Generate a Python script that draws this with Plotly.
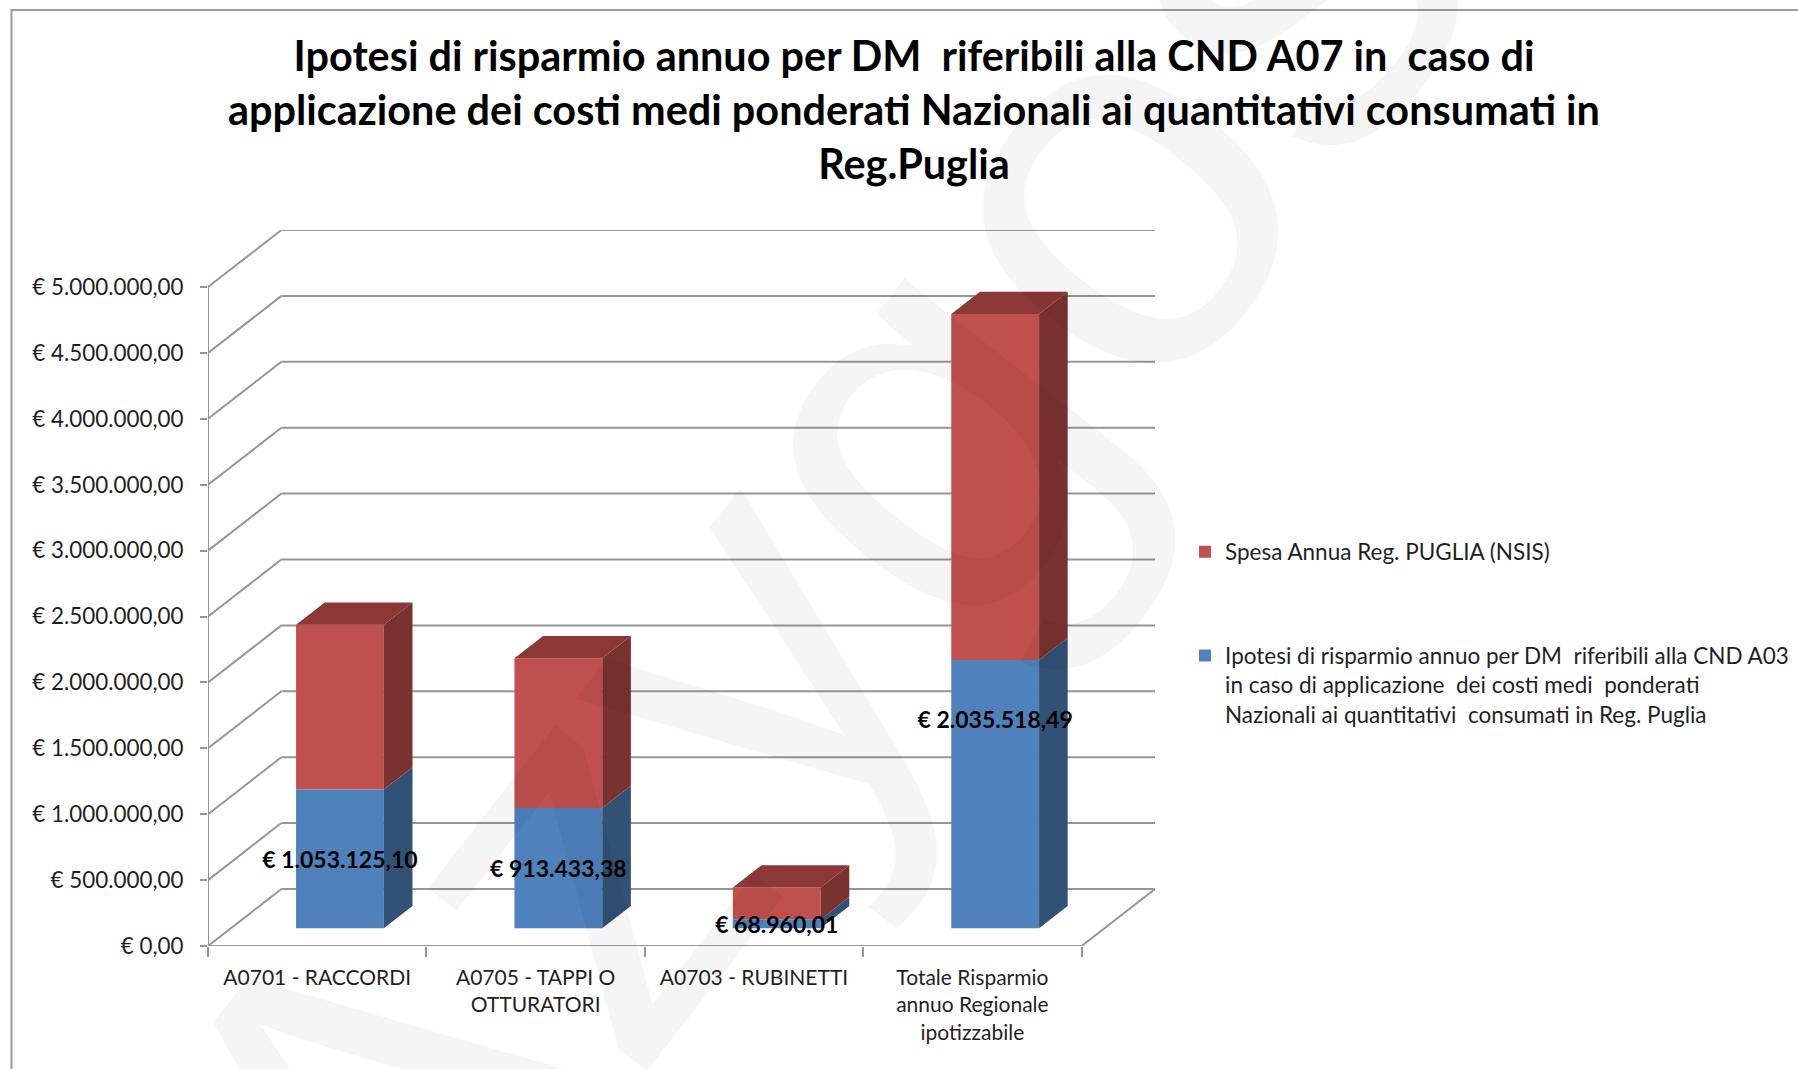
import plotly.graph_objects as go

# ---- data ----
categories = ["A0701 - RACCORDI", "A0705 - TAPPI O<br>OTTURATORI", "A0703 - RUBINETTI",
              "Totale Risparmio<br>annuo Regionale<br>ipotizzabile"]
risparmio = [1053125.10, 913433.38, 68960.01, 2035518.49]
spesa = [1250000, 1135000, 240000, 2625000]
risparmio_labels = ["€ 1.053.125,10", "€ 913.433,38", "€ 68.960,01", "€ 2.035.518,49"]
label_fraction = [0.5, 0.5, 0.5, 0.78]
tick_values = [0, 500000, 1000000, 1500000, 2000000, 2500000, 3000000, 3500000, 4000000, 4500000, 5000000]
tick_labels = ["€ 0,00", "€ 500.000,00", "€ 1.000.000,00", "€ 1.500.000,00", "€ 2.000.000,00",
               "€ 2.500.000,00", "€ 3.000.000,00", "€ 3.500.000,00", "€ 4.000.000,00",
               "€ 4.500.000,00", "€ 5.000.000,00"]
title_text = ("Ipotesi di risparmio annuo per DM  riferibili alla CND A07 in  caso di<br>"
              "applicazione dei costi medi ponderati Nazionali ai quantitativi consumati in<br>Reg.Puglia")
name_spesa = "Spesa Annua Reg. PUGLIA (NSIS)"
# two empty lines first: plotly centres the swatch on the text block, the reference has it on line 1
name_risp = ("\u00a0<br>\u00a0<br>Ipotesi di risparmio annuo per DM  riferibili alla CND A03<br>"
             "in caso di applicazione  dei costi medi  ponderati<br>"
             "Nazionali ai quantitativi  consumati in Reg. Puglia")

# ---- oblique projection of the Excel 3-D column chart ----
W, H = 1798, 1069
L, R, T, B = 208, 1155, 230, 946
n = len(categories)
DEPTH_X = 0.336          # wall offset, in categories
DEPTH_Y = 432800         # wall offset, in euros
FRONT = 0.31             # depth at which a bar's front face sits
BAR_DEPTH = 0.39
BAR_W = 0.402
LABEL_NUDGE = -25000
GRID = "#969696"
FONT = "Lato"
x_max = n + DEPTH_X
y_max = 5000000 + DEPTH_Y

fig = go.Figure()

base0 = FRONT * DEPTH_Y
xc = [i + 0.5 + FRONT * DEPTH_X for i in range(n)]
bar_dx = BAR_DEPTH * DEPTH_X
bar_dy = BAR_DEPTH * DEPTH_Y

def face(xs, ys, color):
    fig.add_trace(go.Scatter(x=xs, y=ys, mode="lines", fill="toself", fillcolor=color,
                             line=dict(width=0), showlegend=False, hoverinfo="skip"))

fig.add_trace(go.Bar(x=xc, y=spesa, base=[base0 + v for v in risparmio], width=BAR_W, name=name_spesa,
                     marker=dict(color="#C0504D", line=dict(width=0)), legendgroup="b"))
fig.add_trace(go.Bar(x=xc, y=risparmio, base=[base0] * n, width=BAR_W, name=name_risp,
                     marker=dict(color="#4F81BD", line=dict(width=0)), legendgroup="a"))

for i in range(n):
    xr = xc[i] + BAR_W / 2
    xl = xc[i] - BAR_W / 2
    y1 = base0 + risparmio[i]
    y2 = y1 + spesa[i]
    face([xr, xr + bar_dx, xr + bar_dx, xr, xr], [base0, base0 + bar_dy, y1 + bar_dy, y1, base0], "#315274")
    face([xr, xr + bar_dx, xr + bar_dx, xr, xr], [y1, y1 + bar_dy, y2 + bar_dy, y2, y1], "#7A3230")
    face([xl, xl + bar_dx, xr + bar_dx, xr, xl], [y2, y2 + bar_dy, y2 + bar_dy, y2, y2], "#8C3836")

fig.add_trace(go.Scatter(
    x=xc, y=[base0 + v * f + LABEL_NUDGE for v, f in zip(risparmio, label_fraction)],
    mode="text", text=risparmio_labels, textposition="middle center",
    textfont=dict(family=FONT, size=23, color="#000000", weight="bold"),
    showlegend=False, hoverinfo="skip"))

# walls and floor, drawn under the bars
shapes = []
def line(x0, y0, x1, y1):
    shapes.append(dict(type="line", xref="x", yref="y", x0=x0, y0=y0, x1=x1, y1=y1, layer="below",
                       line=dict(color=GRID, width=2)))
for v in tick_values:
    line(0, v, DEPTH_X, v + DEPTH_Y)
    line(DEPTH_X, v + DEPTH_Y, n + DEPTH_X, v + DEPTH_Y)
line(0, 0, 0, tick_values[-1])
line(0, 0, n, 0)
line(n, 0, n + DEPTH_X, DEPTH_Y)

px = lambda p: (p - L) / (R - L)
py = lambda p: (B - p) / (B - T)
shapes.append(dict(type="path", xref="paper", yref="paper", layer="below",
                   path=f"M {px(11.5)} {py(1069)} L {px(11.5)} {py(10)} L {px(1798)} {py(10)}",
                   line=dict(color="#9a9a9a", width=2)))

fig.update_layout(
    width=W, height=H, margin=dict(l=L, r=W - R, t=T, b=H - B, autoexpand=False),
    paper_bgcolor="white", plot_bgcolor="rgba(0,0,0,0)",
    barmode="overlay", shapes=shapes,
    font=dict(family=FONT, color="#1f1f1f"),
    title=dict(text=title_text, x=914 / W, xanchor="center", y=1 - 71 / H, yanchor="top",
               font=dict(family=FONT, size=41.4, color="#000000", weight="bold")),
    xaxis=dict(range=[0, x_max], showgrid=False, zeroline=False, showline=False,
               tickmode="array", tickvals=[i + 0.5 for i in range(n)], ticktext=categories,
               ticks="", ticklabelstandoff=17, tickfont=dict(family=FONT, size=21),
               minor=dict(tickmode="array", tickvals=list(range(n + 1)), ticks="outside",
                          ticklen=10, tickcolor=GRID, tickwidth=2, showgrid=False)),
    yaxis=dict(range=[0, y_max], showgrid=False, zeroline=False, showline=False,
               tickmode="array", tickvals=tick_values, ticktext=tick_labels,
               ticks="outside", ticklen=7, tickcolor=GRID, tickwidth=2, ticklabelstandoff=12,
               tickfont=dict(family=FONT, size=22.4)),
    legend=dict(x=px(1185), y=py(530.5), xanchor="left", yanchor="top",
                traceorder="grouped", tracegroupgap=13, bgcolor="rgba(0,0,0,0)",
                font=dict(family=FONT, size=22.5, color="#1f1f1f")),
    annotations=[dict(text="Azygos", xref="paper", yref="paper", x=px(810), y=py(560),
                      showarrow=False, textangle=-52,
                      font=dict(family="Liberation Sans", size=540, color="rgba(0,0,0,0.04)"))],
)

fig.write_html("out.html", config=dict(displayModeBar=False),
               post_script="document.body.style.margin='0';")
